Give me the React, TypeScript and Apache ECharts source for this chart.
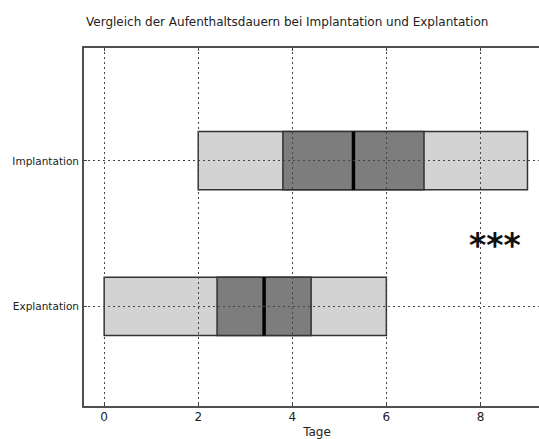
import React, { useEffect, useRef } from "react";
import * as echarts from "echarts";

// Stay durations in days: [min, q1, median, q3, max]
const categories = ["Explantation", "Implantation"];
const positions = [1, 2];
const explantation = [0, 2.4, 3.4, 4.4, 6.0];
const implantation = [2.0, 3.8, 5.3, 6.8, 9.0];
const xTicks = [0, 2, 4, 6, 8];

const FONT = "DejaVu Sans";
const BOX_HEIGHT = 0.4;

export default function App() {
  const ref = useRef<HTMLDivElement>(null);

  useEffect(() => {
    if (!ref.current) return;
    const chart = echarts.init(ref.current, undefined, { renderer: "svg" });

    const rows = [explantation, implantation].map((v, i) => [positions[i], ...v]);

    const gridLine = { show: true, lineStyle: { color: "#444", type: [2, 3] as any, width: 1 } };

    chart.setOption({
      animation: false,
      backgroundColor: "#fff",
      title: {
        text: "Vergleich der Aufenthaltsdauern bei Implantation und Explantation",
        left: 81,
        top: 11,
        textStyle: { fontFamily: FONT, fontSize: 12, fontWeight: "normal", color: "#222" },
      },
      grid: {
        left: 83,
        top: 47,
        width: 468,
        bottom: 32,
        containLabel: false,
        outerBoundsMode: "none",
        show: true,
        borderColor: "#444",
        borderWidth: 1.5,
      },
      xAxis: [
        {
          type: "value",
          min: -0.45,
          max: 9.5,
          z: 3,
          name: "Tage",
          nameLocation: "middle",
          nameGap: 18,
          nameMoveOverlap: false,
          nameTextStyle: { fontFamily: FONT, fontSize: 12, lineHeight: 13, color: "#222" },
          axisLine: { show: true, onZero: false, lineStyle: { color: "#444", width: 1.5 } },
          axisTick: { show: true, inside: true, length: 4, customValues: xTicks, lineStyle: { color: "#444" } },
          axisLabel: { customValues: xTicks, margin: 4, fontFamily: FONT, fontSize: 12, color: "#222" },
          splitLine: gridLine,
        },
        {
          type: "value",
          position: "top",
          min: -0.45,
          max: 9.5,
          z: 3,
          axisLine: { show: true, onZero: false, lineStyle: { color: "#444", width: 1.5 } },
          axisTick: { show: true, inside: true, length: 4, customValues: xTicks, lineStyle: { color: "#444" } },
          axisLabel: { show: false, customValues: xTicks },
          splitLine: { show: false },
        },
      ],
      yAxis: {
        type: "value",
        min: 0.31,
        max: 2.78,
        z: 3,
        axisLine: { show: true, onZero: false, lineStyle: { color: "#444", width: 1.5 } },
        axisTick: { show: true, inside: true, length: 4, customValues: positions, lineStyle: { color: "#444" } },
        axisLabel: {
          customValues: positions,
          margin: 4,
          fontFamily: FONT,
          fontSize: 10.5,
          color: "#222",
          formatter: (v: number) => categories[positions.indexOf(Math.round(v))] ?? "",
        },
        splitLine: gridLine,
      },
      series: [
        {
          type: "custom",
          xAxisIndex: 0,
          yAxisIndex: 0,
          z: 2,
          data: rows,
          encode: { x: [1, 2, 3, 4, 5], y: 0 },
          renderItem: (params: any, api: any) => {
            const pos = api.value(0);
            const lo = api.coord([api.value(1), pos]);
            const q1 = api.coord([api.value(2), pos]);
            const med = api.coord([api.value(3), pos]);
            const q3 = api.coord([api.value(4), pos]);
            const hi = api.coord([api.value(5), pos]);
            const h = api.size([0, BOX_HEIGHT])[1];
            const yc = lo[1];
            return {
              type: "group",
              children: [
                {
                  type: "rect",
                  shape: { x: lo[0], y: yc - h / 2, width: hi[0] - lo[0], height: h },
                  style: { fill: "#d3d3d3", stroke: "#333", lineWidth: 1.5 },
                },
                {
                  type: "rect",
                  shape: { x: q1[0], y: yc - h / 2, width: q3[0] - q1[0], height: h },
                  style: { fill: "#7d7d7d", stroke: "#333", lineWidth: 1.5 },
                },
                {
                  type: "line",
                  shape: { x1: med[0], y1: yc - h / 2, x2: med[0], y2: yc + h / 2 },
                  style: { stroke: "#000", lineWidth: 3.5 },
                },
              ],
            };
          },
        },
      ],
      graphic: [
        {
          type: "text",
          left: 469,
          top: 229,
          z: 10,
          style: {
            text: "***",
            fontFamily: FONT,
            fontSize: 33,
            fontWeight: "bold",
            fill: "#111",
          },
        },
      ],
    });

    return () => chart.dispose();
  }, []);

  return (
    <div
      style={{ position: "fixed", left: 0, top: 0, width: 539, height: 439, overflow: "hidden", background: "#fff" }}
    >
      <div ref={ref} style={{ width: 539, height: 439 }} />
    </div>
  );
}
